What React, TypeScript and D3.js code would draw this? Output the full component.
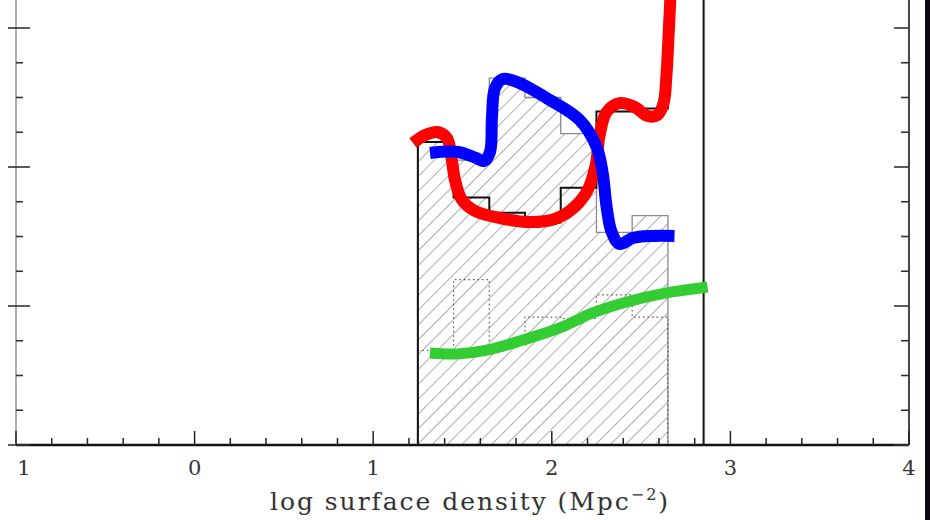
import React from "react";
import * as d3 from "d3";

// Histogram bins (log surface density), width 0.2 starting at 1.25
const binEdges = [1.25, 1.45, 1.65, 1.85, 2.05, 2.25, 2.45, 2.65, 2.85];
const allCounts = [2.18, 1.78, 1.67, 1.6, 1.85, 2.4, 2.42, 4.0];
const hatchedCounts = [2.18, 2.05, 2.64, 2.5, 2.24, 1.53, 1.65];
const dottedCounts = [0.68, 1.19, 0.72, 0.92, 0.91, 1.08, 0.92];

// Smoothed model curves [logDensity, value]
const redCurve: [number, number][] = [
  [1.223, 2.173], [1.291, 2.23], [1.358, 2.252], [1.413, 2.209], [1.436, 2.086],
  [1.458, 1.906], [1.497, 1.763], [1.57, 1.683], [1.709, 1.633], [1.877, 1.604],
  [2.017, 1.626], [2.128, 1.712], [2.201, 1.835], [2.246, 2.014], [2.268, 2.23],
  [2.307, 2.396], [2.38, 2.46], [2.464, 2.432], [2.536, 2.367], [2.592, 2.374],
  [2.626, 2.46], [2.642, 2.662], [2.654, 2.95], [2.665, 3.25],
];
const blueCurve: [number, number][] = [
  [1.318, 2.101], [1.475, 2.108], [1.575, 2.065], [1.62, 2.043], [1.654, 2.108],
  [1.665, 2.36], [1.682, 2.568], [1.726, 2.633], [1.804, 2.612], [1.989, 2.482],
  [2.156, 2.338], [2.251, 2.144], [2.285, 1.957], [2.307, 1.712], [2.335, 1.532],
  [2.38, 1.446], [2.453, 1.489], [2.564, 1.504], [2.687, 1.504],
];
const greenCurve: [number, number][] = [
  [1.318, 0.662], [1.469, 0.655], [1.637, 0.683], [1.838, 0.755], [2.045, 0.842],
  [2.229, 0.95], [2.419, 1.029], [2.642, 1.094], [2.872, 1.137],
];

const xMajorTicks = [-1, 0, 1, 2, 3, 4];
const xTickLabels = ["1", "0", "1", "2", "3", "4"];
const yMajorTicks = [0, 1, 2, 3];
const xTitle = "log surface density (Mpc";
const xTitleSup = "−2";

const W = 930;
const H = 520;

export default function App() {
  const x = d3.scaleLinear().domain([-1, 4]).range([16, 909]);
  const y = d3.scaleLinear().domain([0, 3]).range([445, 28]);

  const xMinor = d3.range(-1, 4.0001, 0.2).filter(
    (v) => Math.abs(v - Math.round(v)) > 1e-6
  );
  const yMinor = d3.range(0, 3.30001, 0.25).filter(
    (v) => Math.abs(v - Math.round(v)) > 1e-6
  );

  const stepLine = d3
    .line<[number, number]>()
    .x((d) => x(d[0]))
    .y((d) => y(d[1]));

  const stepPoints = (counts: number[]): [number, number][] => {
    const pts: [number, number][] = [[binEdges[0], 0]];
    counts.forEach((c, i) => {
      pts.push([binEdges[i], c]);
      pts.push([binEdges[i + 1], c]);
    });
    pts.push([binEdges[counts.length], 0]);
    return pts;
  };

  const smooth = d3
    .line<[number, number]>()
    .x((d) => x(d[0]))
    .y((d) => y(d[1]))
    .curve(d3.curveCatmullRom.alpha(0.5));

  const yTop = y(3.3);

  return (
    <div style={{ position: "fixed", left: 0, top: 0 }}>
      <svg width={W} height={H} style={{ display: "block", background: "#fff" }}>
        <defs>
          <pattern
            id="hatch"
            width={10.5}
            height={10.5}
            patternUnits="userSpaceOnUse"
            patternTransform="rotate(45)"
          >
            <line x1={0} y1={-1} x2={0} y2={12} stroke="#4a4a4a" strokeWidth={0.9} />
          </pattern>
        </defs>

        {/* hatched histogram */}
        <path
          d={stepLine(stepPoints(hatchedCounts)) || ""}
          fill="url(#hatch)"
          stroke="#8a8a8a"
          strokeWidth={1.3}
        />
        {/* dotted histogram */}
        <path
          d={stepLine(stepPoints(dottedCounts)) || ""}
          fill="none"
          stroke="#555"
          strokeWidth={1.2}
          strokeDasharray="1.5 3"
        />
        {/* full sample histogram */}
        <path
          d={stepLine(stepPoints(allCounts)) || ""}
          fill="none"
          stroke="#111"
          strokeWidth={2}
        />

        {/* axes frame */}
        <line x1={x(-1)} x2={x(-1)} y1={y(0)} y2={yTop} stroke="#9a9a9a" strokeWidth={1.6} />
        <line x1={x(4)} x2={x(4)} y1={y(0)} y2={yTop} stroke="#333" strokeWidth={1.8} />
        <line x1={x(-1)} x2={x(4)} y1={y(0)} y2={y(0)} stroke="#111" strokeWidth={2.4} />

        {/* x ticks */}
        {xMajorTicks.map((v) => (
          <line key={"xM" + v} x1={x(v)} x2={x(v)} y1={y(0)} y2={y(0) - 14} stroke="#222" strokeWidth={1.5} />
        ))}
        {xMinor.map((v) => (
          <line key={"xm" + v} x1={x(v)} x2={x(v)} y1={y(0)} y2={y(0) - 7} stroke="#222" strokeWidth={1.5} />
        ))}
        {xMajorTicks.map((v, i) => (
          <text
            key={"xl" + v}
            x={i === 0 ? x(v) + 8 : x(v)}
            y={475}
            textAnchor="middle"
            fontFamily="'DejaVu Serif', serif"
            fontSize={21}
            fill="#333"
          >
            {xTickLabels[i]}
          </text>
        ))}

        {/* y ticks, left and right */}
        {yMajorTicks.map((v) => (
          <g key={"yM" + v}>
            <line x1={x(-1) - 8} x2={x(-1) + 14} y1={y(v)} y2={y(v)} stroke="#333" strokeWidth={1.6} />
            <line x1={x(4) - 15} x2={x(4)} y1={y(v)} y2={y(v)} stroke="#333" strokeWidth={1.6} />
          </g>
        ))}
        {yMinor.map((v) => (
          <g key={"ym" + v}>
            <line x1={x(-1)} x2={x(-1) + 7} y1={y(v)} y2={y(v)} stroke="#333" strokeWidth={1.6} />
            <line x1={x(4) - 8} x2={x(4)} y1={y(v)} y2={y(v)} stroke="#333" strokeWidth={1.6} />
          </g>
        ))}

        {/* model curves */}
        <path d={smooth(greenCurve) || ""} fill="none" stroke="#33cc33" strokeWidth={11} />
        <path d={smooth(redCurve) || ""} fill="none" stroke="#ff0000" strokeWidth={12} />
        <path d={smooth(blueCurve) || ""} fill="none" stroke="#0000ff" strokeWidth={12} />

        {/* axis title */}
        <text
          x={470}
          y={510}
          textAnchor="middle"
          fontFamily="'DejaVu Serif', serif"
          fontSize={25}
          letterSpacing={1.95}
          fill="#333"
        >
          {xTitle}
          <tspan dy={-10} fontSize={16}>{xTitleSup}</tspan>
          <tspan dy={10}>)</tspan>
        </text>

        {/* dark right edge */}
        <rect x={925} y={0} width={5} height={H} fill="#0b0610" />
      </svg>
    </div>
  );
}
